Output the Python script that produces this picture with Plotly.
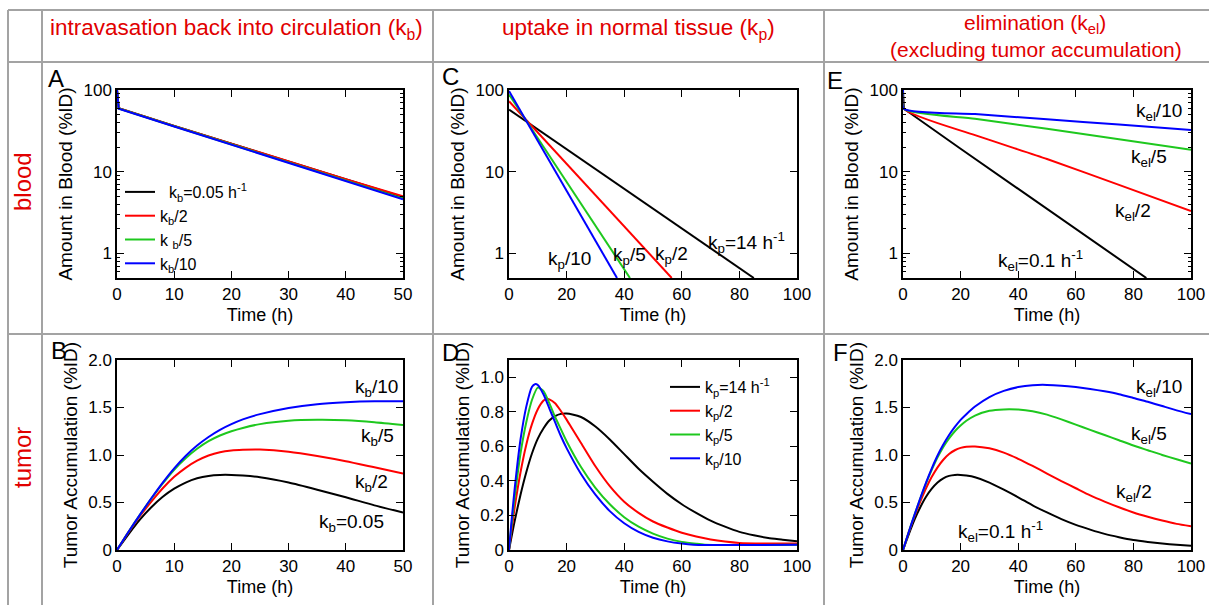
import math
import plotly.graph_objects as go

W, H = 1209, 605
FONT = "Liberation Sans, Arial, sans-serif"
RED_TXT = "rgb(225,0,0)"
C_BLACK, C_RED, C_GREEN, C_BLUE = "#000000", "#ff0000", "#1ec81e", "#0000ff"

# ---------------- data ----------------
# Panel A: blood, varying k_b
tA = [0, 0.3, 10, 20, 30, 40, 50]
A_black = [100, 60, 36.3, 21.9, 13.3, 8.05, 4.9]
A_red = [100, 60, 36.4, 22.0, 13.4, 8.1, 5.0]
A_green = [100, 59.5, 36.0, 21.6, 13.0, 7.8, 4.7]
A_blue = [100, 59, 35.7, 21.3, 12.8, 7.7, 4.6]

# Panel B: tumor, varying k_b
tB = [0, 2, 4, 6, 8, 10, 12, 14, 16, 18, 20, 22, 25, 30, 35, 40, 45, 50]
B_black = [0, 0.165, 0.32, 0.45, 0.56, 0.645, 0.71, 0.755, 0.78, 0.79, 0.79, 0.783, 0.765, 0.71, 0.635, 0.555, 0.47, 0.395]
B_red = [0, 0.185, 0.355, 0.51, 0.65, 0.77, 0.865, 0.94, 0.995, 1.03, 1.048, 1.055, 1.057, 1.035, 0.99, 0.935, 0.87, 0.805]
B_green = [0, 0.19, 0.37, 0.54, 0.70, 0.845, 0.965, 1.065, 1.145, 1.205, 1.25, 1.285, 1.325, 1.36, 1.37, 1.365, 1.345, 1.315]
B_blue = [0, 0.19, 0.37, 0.545, 0.71, 0.86, 0.99, 1.10, 1.19, 1.265, 1.325, 1.375, 1.43, 1.495, 1.535, 1.555, 1.565, 1.565]

# Panel C: blood, varying k_p
tC_black = [0, 20, 40, 60, 80, 85]
C_black = [57.8, 18.9, 6.18, 2.02, 0.66, 0.50]
tC_red = [0, 10, 20, 30, 40, 50, 56.5]
C_red = [73, 30.2, 12.5, 5.17, 2.14, 0.885, 0.50]
tC_green = [0, 10, 20, 30, 40, 42]
C_green = [88, 25.8, 7.56, 2.21, 0.65, 0.50]
tC_blue = [0, 10, 20, 30, 37.5]
C_blue = [97, 23.7, 5.77, 1.41, 0.50]

# Panel D: tumor, varying k_p
tD_black = [0, 2, 4, 6, 8, 10, 12, 14, 16, 18, 20, 22, 25, 30, 35, 40, 45, 50, 55, 60, 65, 70, 75, 80, 85, 90, 95, 100]
D_black = [0, 0.17, 0.32, 0.45, 0.56, 0.645, 0.705, 0.75, 0.775, 0.788, 0.79, 0.785, 0.77, 0.715, 0.64, 0.555, 0.47,
           0.395, 0.325, 0.265, 0.215, 0.17, 0.135, 0.105, 0.085, 0.07, 0.06, 0.05]
tD_red = [0, 1, 2, 4, 6, 8, 10, 12, 13, 14, 16, 18, 20, 22, 25, 30, 35, 40, 45, 50, 55, 60, 65, 70, 75, 80, 90, 100]
D_red = [0, 0.13, 0.25, 0.45, 0.61, 0.73, 0.815, 0.865, 0.875, 0.872, 0.85, 0.805, 0.755, 0.70, 0.62, 0.485, 0.37, 0.28,
         0.215, 0.165, 0.13, 0.10, 0.078, 0.061, 0.049, 0.041, 0.038, 0.038]
tD_green = [0, 1, 2, 3, 4, 6, 8, 10, 12, 14, 16, 18, 20, 25, 30, 35, 40, 45, 50, 55, 60, 65, 68, 100]
D_green = [0, 0.16, 0.31, 0.44, 0.56, 0.74, 0.87, 0.94, 0.92, 0.85, 0.77, 0.70, 0.63, 0.48, 0.36, 0.265, 0.19, 0.135,
           0.095, 0.066, 0.047, 0.036, 0.031, 0.03]
tD_blue = [0, 1, 2, 3, 4, 6, 8, 9, 10, 12, 14, 16, 18, 20, 25, 30, 35, 40, 45, 50, 55, 60, 64, 100]
D_blue = [0, 0.19, 0.36, 0.51, 0.64, 0.83, 0.945, 0.96, 0.955, 0.90, 0.82, 0.74, 0.66, 0.59, 0.44, 0.32, 0.225, 0.155,
          0.105, 0.071, 0.05, 0.037, 0.031, 0.03]

# Panel E: blood, varying k_el
tE = [0, 0.3, 25, 50, 75, 100]
tE_black = [0, 0.3, 20, 40, 60, 80, 84.5]
E_black = [100, 59, 19.1, 6.2, 2.0, 0.65, 0.5]
E_red = [100, 59, 28, 14.3, 6.9, 3.3]
E_green = [100, 59, 44.5, 33.5, 25, 18.5]
E_blue = [100, 59, 50.8, 43.8, 37.7, 32.5]

# Panel F: tumor, varying k_el
tF = [0, 2, 4, 6, 8, 10, 12, 14, 16, 18, 20, 22, 25, 30, 35, 40, 45, 50, 55, 60, 65, 70, 75, 80, 85, 90, 95, 100]
F_black = [0, 0.165, 0.32, 0.45, 0.56, 0.645, 0.71, 0.755, 0.78, 0.79, 0.79, 0.783, 0.765, 0.71, 0.635, 0.555, 0.47,
           0.395, 0.325, 0.265, 0.215, 0.17, 0.135, 0.105, 0.085, 0.068, 0.055, 0.045]
F_red = [0, 0.185, 0.355, 0.51, 0.65, 0.77, 0.87, 0.95, 1.01, 1.05, 1.075, 1.087, 1.09, 1.07, 1.025, 0.96, 0.885, 0.805,
         0.725, 0.65, 0.575, 0.51, 0.45, 0.395, 0.35, 0.31, 0.275, 0.25]
F_green = [0, 0.19, 0.37, 0.54, 0.70, 0.845, 0.975, 1.085, 1.175, 1.25, 1.31, 1.36, 1.415, 1.465, 1.48, 1.478, 1.46,
           1.425, 1.375, 1.32, 1.265, 1.21, 1.155, 1.10, 1.05, 1.00, 0.955, 0.91]
F_blue = [0, 0.19, 0.37, 0.545, 0.71, 0.86, 0.995, 1.11, 1.21, 1.295, 1.37, 1.43, 1.51, 1.61, 1.675, 1.715, 1.735, 1.738,
          1.73, 1.715, 1.695, 1.67, 1.64, 1.60, 1.56, 1.515, 1.47, 1.43]

# tick values / labels
log_tickvals = [1, 10, 100]
log_ticktext = ["1", "10", "100"]
log_minor = [0.5, 0.6, 0.7, 0.8, 0.9, 2, 3, 4, 5, 6, 7, 8, 9, 20, 30, 40, 50, 60, 70, 80, 90]
tum2_vals = [0, 0.5, 1.0, 1.5, 2.0]
tum2_text = ["0", "0.5", "1.0", "1.5", "2.0"]
tumD_vals = [0, 0.2, 0.4, 0.6, 0.8, 1.0]
tumD_text = ["0", "0.2", "0.4", "0.6", "0.8", "1.0"]

# ---------------- figure ----------------
def px(x):
    return x / W


def py(y):
    return 1 - y / H


fig = go.Figure()


def add(xs, ys, color, ax, name=None, legend=None, shape="linear"):
    fig.add_trace(go.Scatter(
        x=xs, y=ys, mode="lines", name=name if name else "",
        line=dict(color=color, width=2, shape=shape, smoothing=0.6),
        xaxis="x" + ax, yaxis="y" + ax,
        showlegend=legend is not None, legend=legend if legend else "legend",
        hoverinfo="skip"))


# A
add(tA, A_black, C_BLACK, "", "\u00a0\u00a0k<sub>b</sub>=0.05 h<sup>-1</sup>", "legend")
add(tA, A_red, C_RED, "", "k<sub>b</sub>/2", "legend")
add(tA, A_green, C_GREEN, "", "k <sub>b</sub>/5", "legend")
add(tA, A_blue, C_BLUE, "", "k<sub>b</sub>/10", "legend")
# B
add(tB, B_black, C_BLACK, "2", shape="spline")
add(tB, B_red, C_RED, "2", shape="spline")
add(tB, B_green, C_GREEN, "2", shape="spline")
add(tB, B_blue, C_BLUE, "2", shape="spline")
# C
add(tC_black, C_black, C_BLACK, "3")
add(tC_red, C_red, C_RED, "3")
add(tC_green, C_green, C_GREEN, "3")
add(tC_blue, C_blue, C_BLUE, "3")
# D
add(tD_black, D_black, C_BLACK, "4", "k<sub>p</sub>=14 h<sup>-1</sup>", "legend2", shape="spline")
add(tD_red, D_red, C_RED, "4", "k<sub>p</sub>/2", "legend2", shape="spline")
add(tD_green, D_green, C_GREEN, "4", "k<sub>p</sub>/5", "legend2", shape="spline")
add(tD_blue, D_blue, C_BLUE, "4", "k<sub>p</sub>/10", "legend2", shape="spline")
# E
add(tE_black, E_black, C_BLACK, "5")
add(tE, E_red, C_RED, "5", shape="spline")
add(tE, E_green, C_GREEN, "5", shape="spline")
add(tE, E_blue, C_BLUE, "5", shape="spline")
# F
add(tF, F_black, C_BLACK, "6", shape="spline")
add(tF, F_red, C_RED, "6", shape="spline")
add(tF, F_green, C_GREEN, "6", shape="spline")
add(tF, F_blue, C_BLUE, "6", shape="spline")

panels = {
    "": dict(x=(117, 403), y=(90, 278), xr=[0, 50], dt=10, log=True, minor=True, yt="Amount in Blood (%ID)"),
    "2": dict(x=(117, 403), y=(360, 550), xr=[0, 50], dt=10, log=False, yr=[0, 2], tv=tum2_vals, tt=tum2_text,
              yt="Tumor Accumulation (%ID)"),
    "3": dict(x=(509, 797), y=(90, 278), xr=[0, 100], dt=20, log=True, minor=False, yt="Amount in Blood (%ID)"),
    "4": dict(x=(509, 797), y=(360, 550), xr=[0, 100], dt=20, log=False, yr=[0, 1.1], tv=tumD_vals, tt=tumD_text,
              yt="Tumor Accumulation (%ID)"),
    "5": dict(x=(903, 1191), y=(90, 278), xr=[0, 100], dt=20, log=True, minor=True, yt="Amount in Blood (%ID)"),
    "6": dict(x=(903, 1191), y=(360, 550), xr=[0, 100], dt=20, log=False, yr=[0, 2], tv=tum2_vals, tt=tum2_text,
              yt="Tumor Accumulation (%ID)"),
}

axis_common = dict(showline=True, linecolor="black", linewidth=1.5, mirror="ticks", ticks="inside",
                   ticklen=7, tickwidth=1.3, tickcolor="black", showgrid=False, zeroline=False, automargin=False,
                   tickfont=dict(size=17, color="black", family=FONT))

layout = {}
for k, p in panels.items():
    xa = dict(axis_common, domain=[px(p["x"][0]), px(p["x"][1])], range=p["xr"], tick0=0, dtick=p["dt"],
              anchor="y" + k, title=dict(text="Time (h)", font=dict(size=18, family=FONT, color="black"), standoff=5))
    if p["log"]:
        ya = dict(axis_common, type="log", range=[-0.30103, 2], tickvals=log_tickvals, ticktext=log_ticktext)
        if p["minor"]:
            ya["minor"] = dict(tickvals=log_minor, ticks="inside", ticklen=3.5, tickwidth=1, tickcolor="black")
    else:
        ya = dict(axis_common, range=p["yr"], tickvals=p["tv"], ticktext=p["tt"])
    ya.update(domain=[py(p["y"][1]), py(p["y"][0])], anchor="x" + k,
              title=dict(text=p["yt"], font=dict(size=19, family=FONT, color="black"), standoff=6))
    layout["xaxis" + k] = xa
    layout["yaxis" + k] = ya

# table grid lines
grid = dict(type="line", xref="paper", yref="paper", line=dict(color="#a3a3a3", width=2), layer="below")
shapes = []
for yy in [10, 62, 334]:
    shapes.append(dict(grid, x0=px(8), x1=1, y0=py(yy), y1=py(yy)))
for xx in [8, 42, 433, 824]:
    shapes.append(dict(grid, x0=px(xx), x1=px(xx), y0=py(10), y1=0))

ann = []


def txt(x, y, s, size=19, color="black", angle=0, xref="paper", yref="paper", xanchor="center"):
    if xref == "paper":
        x = px(x)
    if yref == "paper":
        y = py(y)
    ann.append(dict(x=x, y=y, xref=xref, yref=yref, text=s, showarrow=False, textangle=angle,
                    font=dict(size=size, color=color, family=FONT), xanchor=xanchor, yanchor="middle"))


# headers and row labels
txt(236, 29, "intravasation back into circulation (k<sub>b</sub>)", 22.5, RED_TXT)
txt(638, 29, "uptake in normal tissue (k<sub>p</sub>)", 22.5, RED_TXT)
txt(1035, 24, "elimination (k<sub>el</sub>)", 21, RED_TXT)
txt(1036, 50, "(excluding tumor accumulation)", 21, RED_TXT)
txt(22, 182, "blood", 24, RED_TXT, angle=-90)
txt(22, 458, "tumor", 24, RED_TXT, angle=-90)

# panel letters
for L, (lx, ly) in {"A": (56, 78), "C": (450, 77), "E": (835, 80), "B": (59, 350), "D": (450, 352), "F": (840, 352)}.items():
    txt(lx, ly, L, 24)

# in-panel labels (data coordinates; log axes take log10 values)
txt(21.1, math.log10(0.84), "k<sub>p</sub>/10", xref="x3", yref="y3")
txt(42.0, math.log10(0.93), "k<sub>p</sub>/5", xref="x3", yref="y3")
txt(56.5, math.log10(0.95), "k<sub>p</sub>/2", xref="x3", yref="y3")
txt(82.6, math.log10(1.36), "k<sub>p</sub>=14 h<sup>-1</sup>", xref="x3", yref="y3")

txt(88.8, math.log10(54), "k<sub>el</sub>/10", xref="x5", yref="y5")
txt(85.3, math.log10(14.6), "k<sub>el</sub>/5", xref="x5", yref="y5")
txt(80.0, math.log10(3.2), "k<sub>el</sub>/2", xref="x5", yref="y5")
txt(47.7, math.log10(0.83), "k<sub>el</sub>=0.1 h<sup>-1</sup>", xref="x5", yref="y5")

txt(45.3, 1.71, "k<sub>b</sub>/10", xref="x2", yref="y2")
txt(45.6, 1.19, "k<sub>b</sub>/5", xref="x2", yref="y2")
txt(44.5, 0.71, "k<sub>b</sub>/2", xref="x2", yref="y2")
txt(41.0, 0.28, "k<sub>b</sub>=0.05", xref="x2", yref="y2")

txt(88.8, 1.71, "k<sub>el</sub>/10", xref="x6", yref="y6")
txt(85.3, 1.21, "k<sub>el</sub>/5", xref="x6", yref="y6")
txt(80.1, 0.60, "k<sub>el</sub>/2", xref="x6", yref="y6")
txt(33.8, 0.195, "k<sub>el</sub>=0.1 h<sup>-1</sup>", xref="x6", yref="y6")

leg_common = dict(bgcolor="rgba(0,0,0,0)", borderwidth=0, font=dict(size=16, family=FONT, color="black"),
                  xanchor="left", yanchor="top", tracegroupgap=0, itemclick=False, itemdoubleclick=False)
layout["legend"] = dict(leg_common, x=px(120), y=py(175))
layout["legend2"] = dict(leg_common, x=px(665), y=py(370))

fig.update_layout(template="none", width=W, height=H, margin=dict(l=0, r=0, t=0, b=0, autoexpand=False),
                  paper_bgcolor="white", plot_bgcolor="white", shapes=shapes, annotations=ann,
                  font=dict(family=FONT, color="black"), **layout)

fig.write_html("out.html", config={"displayModeBar": False}, post_script=(
    "document.body.style.margin='0';document.body.style.padding='0';"
    "document.documentElement.style.overflow='hidden';document.body.style.overflow='hidden';"))
